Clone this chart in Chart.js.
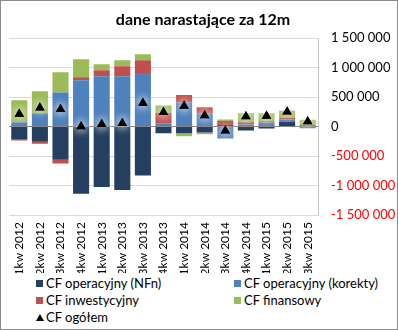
<!DOCTYPE html>
<html>
<head>
<meta charset="utf-8">
<script src="https://cdn.jsdelivr.net/npm/chart.js@4/dist/chart.umd.min.js"></script>
<style>
  html,body{margin:0;padding:0;background:#fff;}
  #wrap{position:relative;width:398px;height:330px;box-sizing:border-box;border:1px solid #8c8c8c;font-family:Lato,sans-serif;}
  #cv{position:absolute;left:0;top:0;}
  .lg{position:absolute;font-size:13px;color:#000;line-height:14px;white-space:nowrap;}
  .bx{display:inline-block;width:7px;height:7px;margin-right:3px;vertical-align:1px;}
  .tri{display:inline-block;width:0;height:0;border-left:4px solid transparent;border-right:4px solid transparent;border-bottom:7px solid #000;margin-right:2px;vertical-align:1px;}
</style>
</head>
<body>
<div id="wrap">
  <canvas id="cv" width="396" height="272"></canvas>
  <div class="lg" style="left:35px;top:275px;"><span class="bx" style="background:#243F60"></span>CF operacyjny (NFn)</div>
  <div class="lg" style="left:233px;top:275px;"><span class="bx" style="background:#4F81BD"></span>CF operacyjny (korekty)</div>
  <div class="lg" style="left:35px;top:292px;"><span class="bx" style="background:#C0504D"></span>CF inwestycyjny</div>
  <div class="lg" style="left:233px;top:292px;"><span class="bx" style="background:#9BBB59"></span>CF finansowy</div>
  <div class="lg" style="left:35px;top:309px;"><span class="tri"></span>CF ogółem</div>
</div>
<script>
const categories = ['1kw 2012','2kw 2012','3kw 2012','4kw 2012','1kw 2013','2kw 2013','3kw 2013','4kw 2013','1kw 2014','2kw 2014','3kw 2014','4kw 2014','1kw 2015','2kw 2015','3kw 2015'];
const cfOperNFn     = [-211000,-256000,-563000,-1138000,-1024000,-1075000,-830000,-114000,-114000,-102000,  28000, -68000, -34000,  80000,      0];
const cfOperKorekty = [  74000, 228000, 580000,  785000,  853000,  853000, 910000,  57000, 410000, 228000,-200000,  34000,  68000,  40000, -28000];
const cfInwest      = [ -23000, -34000, -63000,   51000,  102000,  171000, 216000, 176000, 125000, 102000,  68000,  40000,  23000,  28000,  28000];
const cfFinans      = [ 371000, 370000, 341000,  307000,  102000,  102000, 102000, 125000, -51000, -28000,  23000, 154000, 135000, 125000,  90000];
const cfOgolem      = [ 215000, 320000, 295000,       0,   40000,   55000, 400000, 245000, 350000, 190000, -70000, 170000, 180000, 250000,  85000];
const yTicks = [-1500000,-1000000,-500000,0,500000,1000000,1500000];

function fmt(v){
  const s = Math.abs(v).toString().replace(/\B(?=(\d{3})+(?!\d))/g,' ');
  return (v<0?'-':'') + s;
}

const glow = {
  id:'glow',
  beforeDatasetDraw(chart,args){
    if(args.meta.type==='line'){
      const c=chart.ctx; c.save();
      c.shadowColor='rgba(255,255,255,1)'; c.shadowBlur=10;
    }
  },
  afterDatasetDraw(chart,args){
    if(args.meta.type==='line'){
      args.meta.controller.draw();
      chart.ctx.restore();
    }
  }
};

new Chart(document.getElementById('cv'), {
  type:'bar',
  data:{
    labels:categories,
    datasets:[
      {type:'line',label:'CF ogółem',data:cfOgolem,showLine:false,stack:'total',pointStyle:'triangle',pointRadius:5.5,pointHoverRadius:5.5,backgroundColor:'#000',borderColor:'#000',borderWidth:0},
      {label:'CF operacyjny (NFn)',data:cfOperNFn,backgroundColor:'#243F60',stack:'s'},
      {label:'CF operacyjny (korekty)',data:cfOperKorekty,backgroundColor:'#4F81BD',stack:'s'},
      {label:'CF inwestycyjny',data:cfInwest,backgroundColor:'#C0504D',stack:'s'},
      {label:'CF finansowy',data:cfFinans,backgroundColor:'#9BBB59',stack:'s'}
    ]
  },
  options:{
    responsive:false,
    animation:false,
    datasets:{bar:{categoryPercentage:1,barPercentage:0.78}},
    layout:{padding:{left:8,right:0,top:0,bottom:0}},
    plugins:{
      legend:{display:false},
      tooltip:{enabled:false},
      title:{display:true,text:'dane narastające za 12m',color:'#000',font:{family:'Lato',size:16,weight:'bold'},padding:{top:9,bottom:9}}
    },
    scales:{
      x:{
        stacked:true,
        grid:{display:false,drawTicks:false},
        border:{display:false},
        ticks:{minRotation:90,maxRotation:90,padding:7,color:'#000',font:{family:'Lato',size:12}},
        afterFit(s){ s.height=58; }
      },
      y:{
        position:'right',
        stacked:true,
        min:-1500000,max:1500000,
        afterBuildTicks(s){ s.ticks = yTicks.map(v=>({value:v})); },
        grid:{drawTicks:false,color:c=>c.tick && c.tick.value===0 ? '#868686':'#D9D9D9',lineWidth:1},
        border:{display:true,color:'#C8C8C8'},
        ticks:{padding:13,color:c=>c.tick.value<0?'#FF0000':'#000',font:{family:'Lato',size:13},callback:v=>fmt(v)},
        afterFit(s){ s.width=79; }
      }
    }
  },
  plugins:[glow]
});
</script>
</body>
</html>
